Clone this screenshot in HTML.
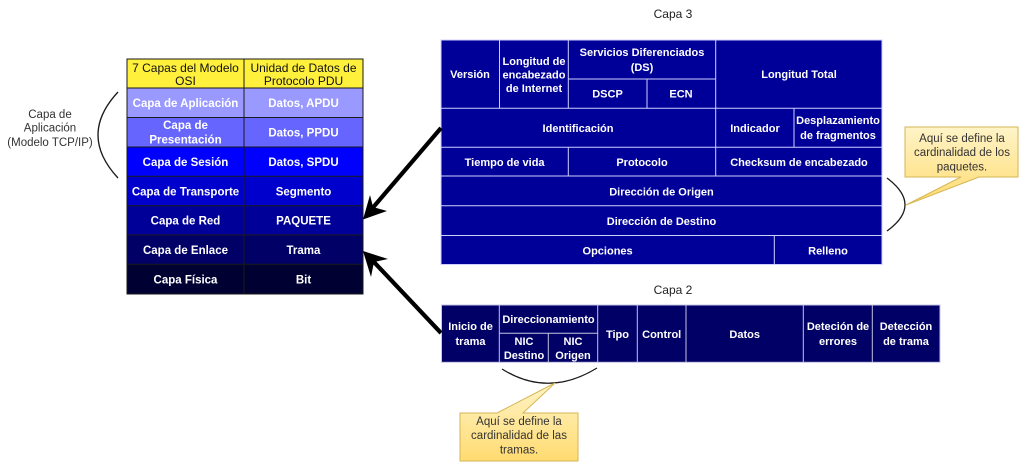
<!DOCTYPE html>
<html>
<head>
<meta charset="utf-8">
<style>
  html, body { margin:0; padding:0; background:#ffffff; }
  body { width:1023px; height:462px; overflow:hidden; }
  svg { display:block; }
  text { font-family:"Liberation Sans", Arial, sans-serif; }
  .w { fill:#ffffff; font-weight:bold; font-size:11px; text-anchor:middle; }
  .o { fill:#ffffff; font-weight:bold; font-size:11.5px; text-anchor:middle; }
  .k { fill:#111111; font-size:12px; text-anchor:middle; }
  .g { fill:#333333; font-size:11.5px; text-anchor:middle; }
</style>
</head>
<body>
<svg width="1023" height="462" viewBox="0 0 1023 462" xmlns="http://www.w3.org/2000/svg">
  <defs>
    <linearGradient id="cg" x1="0" y1="0" x2="0" y2="1">
      <stop offset="0" stop-color="#fff4c8"/>
      <stop offset="1" stop-color="#ffdb70"/>
    </linearGradient>
  </defs>

  <!-- ===== OSI table ===== -->
  <rect x="127" y="59" width="236" height="29" fill="#fff03c"/>
  <rect x="127" y="88" width="236" height="29.5" fill="#9999ff"/>
  <rect x="127" y="117.5" width="236" height="29.5" fill="#6666ff"/>
  <rect x="127" y="147" width="236" height="29.3" fill="#0000ff"/>
  <rect x="127" y="176.3" width="236" height="29.4" fill="#0000cc"/>
  <rect x="127" y="205.7" width="236" height="29.3" fill="#000099"/>
  <rect x="127" y="235" width="236" height="29.3" fill="#000066"/>
  <rect x="127" y="264.3" width="236" height="29.7" fill="#000033"/>
  <g stroke="#1a1a1a" stroke-width="1" fill="none">
    <rect x="127" y="59" width="236" height="235"/>
    <line x1="244" y1="59" x2="244" y2="294"/>
    <line x1="127" y1="88" x2="363" y2="88"/>
    <line x1="127" y1="117.5" x2="363" y2="117.5"/>
    <line x1="127" y1="147" x2="363" y2="147"/>
    <line x1="127" y1="176.3" x2="363" y2="176.3"/>
    <line x1="127" y1="205.7" x2="363" y2="205.7"/>
    <line x1="127" y1="235" x2="363" y2="235"/>
    <line x1="127" y1="264.3" x2="363" y2="264.3"/>
  </g>
  <text class="k" x="185.5" y="72">7 Capas del Modelo</text>
  <text class="k" x="185.5" y="85">OSI</text>
  <text class="k" x="303.5" y="72">Unidad de Datos de</text>
  <text class="k" x="303.5" y="85">Protocolo PDU</text>

  <text class="o" x="185.5" y="107">Capa de Aplicación</text>
  <text class="o" x="303.5" y="107">Datos, APDU</text>
  <text class="o" x="185.5" y="129">Capa de</text>
  <text class="o" x="185.5" y="143.5">Presentación</text>
  <text class="o" x="303.5" y="136.5">Datos, PPDU</text>
  <text class="o" x="185.5" y="166">Capa de Sesión</text>
  <text class="o" x="303.5" y="166">Datos, SPDU</text>
  <text class="o" x="185.5" y="195.3">Capa de Transporte</text>
  <text class="o" x="303.5" y="195.3">Segmento</text>
  <text class="o" x="185.5" y="224.7">Capa de Red</text>
  <text class="o" x="303.5" y="224.7">PAQUETE</text>
  <text class="o" x="185.5" y="254">Capa de Enlace</text>
  <text class="o" x="303.5" y="254">Trama</text>
  <text class="o" x="185.5" y="283.4">Capa Física</text>
  <text class="o" x="303.5" y="283.4">Bit</text>

  <!-- left bracket + label -->
  <path d="M118,92 Q78,135 118,178" fill="none" stroke="#1a1a1a" stroke-width="1.3"/>
  <text class="g" x="50" y="118">Capa de</text>
  <text class="g" x="50" y="131.5">Aplicación</text>
  <text class="g" x="50" y="146">(Modelo TCP/IP)</text>

  <!-- ===== Capa 3 ===== -->
  <text class="k" x="673" y="18" style="fill:#222">Capa 3</text>
  <rect x="441" y="40" width="441" height="224.5" fill="#000099"/>
  <g stroke="#cfcfff" stroke-width="1" fill="none">
    <rect x="441" y="40" width="441" height="224.5"/>
    <line x1="499.5" y1="40" x2="499.5" y2="108.3"/>
    <line x1="568.3" y1="40" x2="568.3" y2="108.3"/>
    <line x1="715.7" y1="40" x2="715.7" y2="147.3"/>
    <line x1="568.3" y1="79" x2="715.7" y2="79"/>
    <line x1="647" y1="79" x2="647" y2="108.3"/>
    <line x1="441" y1="108.3" x2="882" y2="108.3"/>
    <line x1="794" y1="108.3" x2="794" y2="147.3"/>
    <line x1="441" y1="147.3" x2="882" y2="147.3"/>
    <line x1="568.3" y1="147.3" x2="568.3" y2="176"/>
    <line x1="715.7" y1="147.3" x2="715.7" y2="176"/>
    <line x1="441" y1="176" x2="882" y2="176"/>
    <line x1="441" y1="205.7" x2="882" y2="205.7"/>
    <line x1="441" y1="235.5" x2="882" y2="235.5"/>
    <line x1="774.3" y1="235.5" x2="774.3" y2="264.5"/>
  </g>
  <text class="w" x="470" y="78">Versión</text>
  <text class="w" x="534" y="65">Longitud de</text>
  <text class="w" x="534" y="78.5">encabezado</text>
  <text class="w" x="534" y="92">de Internet</text>
  <text class="w" x="642" y="56">Servicios Diferenciados</text>
  <text class="w" x="642" y="71">(DS)</text>
  <text class="w" x="607.5" y="97.5">DSCP</text>
  <text class="w" x="681" y="97.5">ECN</text>
  <text class="w" x="799" y="78">Longitud Total</text>
  <text class="w" x="578" y="132">Identificación</text>
  <text class="w" x="755" y="132">Indicador</text>
  <text class="w" x="838" y="124">Desplazamiento</text>
  <text class="w" x="838" y="139">de fragmentos</text>
  <text class="w" x="504.6" y="166">Tiempo de vida</text>
  <text class="w" x="642" y="166">Protocolo</text>
  <text class="w" x="799" y="166">Checksum de encabezado</text>
  <text class="w" x="661.5" y="195.3">Dirección de Origen</text>
  <text class="w" x="661.5" y="225">Dirección de Destino</text>
  <text class="w" x="607.6" y="254.5">Opciones</text>
  <text class="w" x="828" y="254.5">Relleno</text>

  <!-- right bracket + callout -->
  <path d="M887,178 Q923,205 887,231" fill="none" stroke="#1a1a1a" stroke-width="1.3"/>
  <path d="M905,127 H1018 V177 H979 L906,205 L961,177 H905 Z" fill="url(#cg)" stroke="#d6b656" stroke-width="1"/>
  <text class="g" x="962" y="142">Aquí se define la</text>
  <text class="g" x="962" y="156">cardinalidad de los</text>
  <text class="g" x="962" y="170.5">paquetes.</text>

  <!-- ===== Capa 2 ===== -->
  <text class="k" x="673" y="294" style="fill:#222">Capa 2</text>
  <rect x="441.5" y="305" width="498.5" height="57.3" fill="#000066"/>
  <g stroke="#c4c4e4" stroke-width="1" fill="none">
    <rect x="441.5" y="305" width="498.5" height="57.3"/>
    <line x1="499.3" y1="305" x2="499.3" y2="362.3"/>
    <line x1="597.7" y1="305" x2="597.7" y2="362.3"/>
    <line x1="637.3" y1="305" x2="637.3" y2="362.3"/>
    <line x1="686" y1="305" x2="686" y2="362.3"/>
    <line x1="803.3" y1="305" x2="803.3" y2="362.3"/>
    <line x1="872.3" y1="305" x2="872.3" y2="362.3"/>
    <line x1="499.3" y1="333.3" x2="597.7" y2="333.3"/>
    <line x1="548.3" y1="333.3" x2="548.3" y2="362.3"/>
  </g>
  <text class="w" x="470.5" y="330">Inicio de</text>
  <text class="w" x="470.5" y="345">trama</text>
  <text class="w" x="548.5" y="323">Direccionamiento</text>
  <text class="w" x="524" y="345">NIC</text>
  <text class="w" x="524" y="359">Destino</text>
  <text class="w" x="573" y="345">NIC</text>
  <text class="w" x="573" y="359">Origen</text>
  <text class="w" x="617.5" y="338">Tipo</text>
  <text class="w" x="661.7" y="338">Control</text>
  <text class="w" x="744.7" y="338">Datos</text>
  <text class="w" x="838" y="330">Deteción de</text>
  <text class="w" x="838" y="345">errores</text>
  <text class="w" x="906" y="330">Detección</text>
  <text class="w" x="906" y="345">de trama</text>

  <!-- bottom bracket + callout -->
  <path d="M502,369 Q548,398 597,368" fill="none" stroke="#1a1a1a" stroke-width="1.3"/>
  <path d="M460,413 H497 L555,383 L523,413 H578 V461 H460 Z" fill="url(#cg)" stroke="#d6b656" stroke-width="1"/>
  <text class="g" x="519" y="425">Aquí se define la</text>
  <text class="g" x="519" y="439">cardinalidad de las</text>
  <text class="g" x="519" y="453.5">tramas.</text>

  <!-- ===== Arrows ===== -->
  <line x1="441" y1="128" x2="373" y2="207.5" stroke="#000" stroke-width="4.2"/>
  <path d="M363,219.5 L370,195 L373,207 L387,211 Z" fill="#000"/>
  <line x1="441" y1="333" x2="373" y2="261" stroke="#000" stroke-width="4.2"/>
  <path d="M363,251 L388,259 L374,262 L371,277 Z" fill="#000"/>
</svg>
</body>
</html>
